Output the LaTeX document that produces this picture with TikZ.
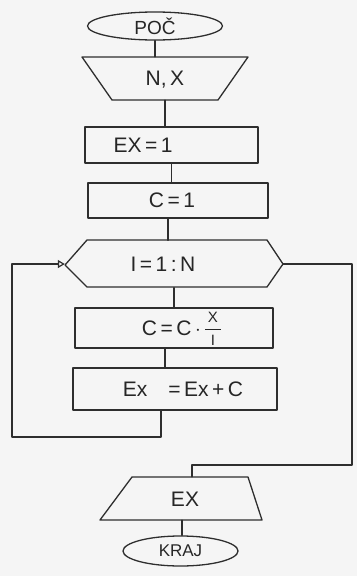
\documentclass[tikz,border=0pt]{standalone}
\usepackage{fontspec}
\setmainfont{Liberation Sans}
\usetikzlibrary{shapes.geometric,arrows.meta}
\tikzset{
  ln/.style={line width=1.3pt, draw=black!82, line cap=round, line join=round},
  txt/.style={font=\fontsize{21}{23}\selectfont, text=black!85, inner sep=0pt},
  smalltxt/.style={font=\fontsize{15}{16}\selectfont, text=black!85, inner sep=0pt},
  procbox/.style={ln, rectangle, inner sep=0pt},
  termin/.style={ln, ellipse, inner sep=0pt},
  ghost/.style={draw=none, rectangle, inner sep=0pt}
}
\begin{document}
\begin{tikzpicture}[x=1pt,y=-1pt]
\useasboundingbox[fill=black!4] (0,0) rectangle (357,576);

% start
\node[termin, minimum width=135, minimum height=28] (poc) at (155,26) {};
\node[txt, font=\fontsize{19}{21}\selectfont] (poct) at (poc.center) {POČ};

% input N,X
\draw[ln] (82,57) -- (248,57) -- (218,100) -- (112,100) -- cycle;
\node[ghost, minimum width=166, minimum height=43] (in) at (165,78.5) {};
\node[txt] (int) at (165,80) {N,\,X};

% EX=1
\node[procbox, minimum width=173, minimum height=36] (ex1) at (171.5,145) {};
\node[txt] (ex1t) at (143,145) {EX\,=\,1};

% C=1
\node[procbox, minimum width=180, minimum height=35] (c1) at (178,200.5) {};
\node[txt] (c1t) at (172,200.5) {C\,=\,1};

% loop I=1:N
\draw[ln] (65,265) -- (87,240) -- (267,240) -- (283,264) -- (267,287) -- (87,287) -- cycle;
\node[ghost, minimum width=218, minimum height=47] (loop) at (174,264) {};
\node[txt] (loopt) at (163,264) {I\,=\,1\,:\,N};

% C = C * X/I
\node[procbox, minimum width=198, minimum height=40] (ccx) at (174,328) {};
\node[txt, anchor=east] (ccxt) at (201,328) {C\,=\,C\,$\cdot$};
\node[smalltxt] (fracx) at (213,317.5) {X};
\node[smalltxt] (fraci) at (213,340) {I};
\draw[line width=1pt, draw=black!85] (205,329) -- (221,329);

% Ex = Ex + C
\node[procbox, minimum width=204, minimum height=42] (exc) at (175,389) {};
\node[txt] (exct) at (183,389) {Ex\quad=\,Ex\,+\,C};

% output EX
\draw[ln] (132,477) -- (248,477) -- (262,520) -- (100,520) -- cycle;
\node[ghost, minimum width=162, minimum height=43] (out) at (185,498.5) {};
\node[txt] (outt) at (185,499) {EX};

% end
\node[termin, minimum width=115, minimum height=30] (kraj) at (180.5,551) {};
\node[txt, font=\fontsize{17}{19}\selectfont] (krajt) at (kraj.center) {KRAJ};

% connectors
\draw[ln] (poc.south) -- (poc.south |- in.north);
\draw[ln] (in.south) -- (in.south |- ex1.north);
\draw[ln] (ex1.south) -- (ex1.south |- c1.north);
\draw[ln] ([xshift=-10pt]c1.south) -- ([xshift=-10pt]c1.south |- loop.north);
\draw[ln] (loop.south) -- (loop.south |- ccx.north);
\draw[ln] ([xshift=-9pt]ccx.south) -- ([xshift=-9pt]ccx.south |- exc.north);
\coordinate (lbot) at (161,437);
\coordinate (lleft) at (12,437);
\draw[ln, -{Triangle[open, length=7pt, width=8pt, line width=1.2pt]}]
  ([xshift=-14pt]exc.south) -- (lbot) -- (lleft) |- (loop.west);
\coordinate (rtop) at (352,264);
\coordinate (rbot) at (352,465);
\draw[ln] (loop.east) -- (rtop) -- (rbot) -| ([xshift=7pt]out.north);
\draw[ln] ([xshift=-3pt]out.south) -- ([xshift=-3pt]out.south |- kraj.north);
\end{tikzpicture}
\end{document}
